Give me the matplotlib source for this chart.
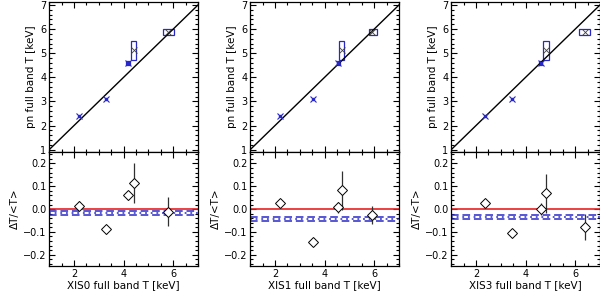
import numpy as np
import matplotlib
matplotlib.use("Agg")
import matplotlib.pyplot as plt
from matplotlib.patches import Rectangle
from matplotlib.ticker import MultipleLocator

# pn temperatures (shared by all three panels)
pn_T = [2.38, 3.10, 4.60, 5.15, 5.88]
box_y = [(4.53, 4.67), (4.71, 5.51), (5.74, 6.02)]  # boxes for points 3-5

detectors = ["XIS0", "XIS1", "XIS3"]
xis_T = {
    "XIS0": [2.22, 3.28, 4.17, 4.40, 5.81],
    "XIS1": [2.20, 3.55, 4.55, 4.69, 5.93],
    "XIS3": [2.35, 3.46, 4.61, 4.81, 6.38],
}
box_x = {
    "XIS0": [(4.10, 4.24), (4.30, 4.51), (5.57, 6.03)],
    "XIS1": [(4.48, 4.62), (4.57, 4.77), (5.78, 6.10)],
    "XIS3": [(4.54, 4.68), (4.69, 4.93), (6.16, 6.61)],
}
dev = {
    "XIS0": [0.015, -0.089, 0.061, 0.115, -0.012],
    "XIS1": [0.025, -0.143, 0.007, 0.083, -0.026],
    "XIS3": [0.025, -0.107, 0.000, 0.069, -0.078],
}
dev_err = {
    "XIS0": [0.020, 0.020, 0.020, 0.087, 0.064],
    "XIS1": [0.015, 0.015, 0.025, 0.085, 0.040],
    "XIS3": [0.015, 0.015, 0.025, 0.085, 0.056],
}
# mean deviation: upper bound, mean, lower bound
mean_dev = {
    "XIS0": [-0.008, -0.0175, -0.027],
    "XIS1": [-0.034, -0.044, -0.054],
    "XIS3": [-0.025, -0.035, -0.045],
}

blue = "#2828c8"
red = "#e82020"

fig = plt.figure(figsize=(6.0, 2.97), dpi=100)
lefts = [0.082, 0.417, 0.752]
w = 0.248


def style(ax):
    ax.tick_params(which="both", direction="in", top=True, right=True,
                   labelsize=7, width=0.8, pad=2)
    ax.tick_params(which="major", length=4)
    ax.tick_params(which="minor", length=2)
    for s in ax.spines.values():
        s.set_linewidth(0.9)


for det, l in zip(detectors, lefts):
    top = fig.add_axes([l, 0.488, w, 0.505])
    bot = fig.add_axes([l, 0.104, w, 0.384], sharex=top)

    # top: pn vs XIS temperature
    top.plot([0.9, 7.1], [0.9, 7.1], color="black", lw=1)
    for (x0, x1), (y0, y1) in zip(box_x[det], box_y):
        top.add_patch(Rectangle((x0, y0), x1 - x0, y1 - y0, fill=False,
                                edgecolor=blue, lw=0.9))
    xt = xis_T[det]
    top.plot(xt[:3], pn_T[:3], ls="none", marker="x", ms=5, mew=0.8, color=blue)
    top.plot(xt[:3], pn_T[:3], ls="none", marker="s", ms=2, color=blue)
    top.plot(xt[3:], pn_T[3:], ls="none", marker="x", ms=4, mew=0.6, color="#404040")
    top.set_xlim(1, 7)
    top.set_ylim(0.9, 7.12)
    top.yaxis.set_major_locator(MultipleLocator(1))
    top.yaxis.set_minor_locator(MultipleLocator(0.2))
    top.set_ylabel("pn full band T [keV]", fontsize=7.5, labelpad=3)
    style(top)
    plt.setp(top.get_xticklabels(), visible=False)

    # bottom: fractional deviation
    bot.axhline(0, color=red, lw=1.2)
    up, mid, lo = mean_dev[det]
    bot.axhline(up, color=blue, lw=1.1, ls=(0, (5, 2.5)))
    bot.axhline(lo, color=blue, lw=1.1, ls=(0, (5, 2.5)))
    bot.axhline(mid, color=blue, lw=1.1, ls=(0, (1.2, 2.5)))
    bot.errorbar(xt, dev[det], yerr=dev_err[det], fmt="D", ms=5.5,
                 mfc="white", mec="black", mew=0.7, ecolor="#303030",
                 elinewidth=0.9, capsize=0, zorder=5)
    bot.set_ylim(-0.25, 0.25)
    bot.yaxis.set_major_locator(MultipleLocator(0.1))
    bot.yaxis.set_minor_locator(MultipleLocator(0.02))
    bot.xaxis.set_major_locator(MultipleLocator(2))
    bot.xaxis.set_minor_locator(MultipleLocator(0.5))
    bot.set_ylabel("\u0394T/<T>", fontsize=7.5, labelpad=2)
    bot.set_xlabel(det + " full band T [keV]", fontsize=7.5, labelpad=1)
    style(bot)

fig.savefig("out.png", dpi=100)
